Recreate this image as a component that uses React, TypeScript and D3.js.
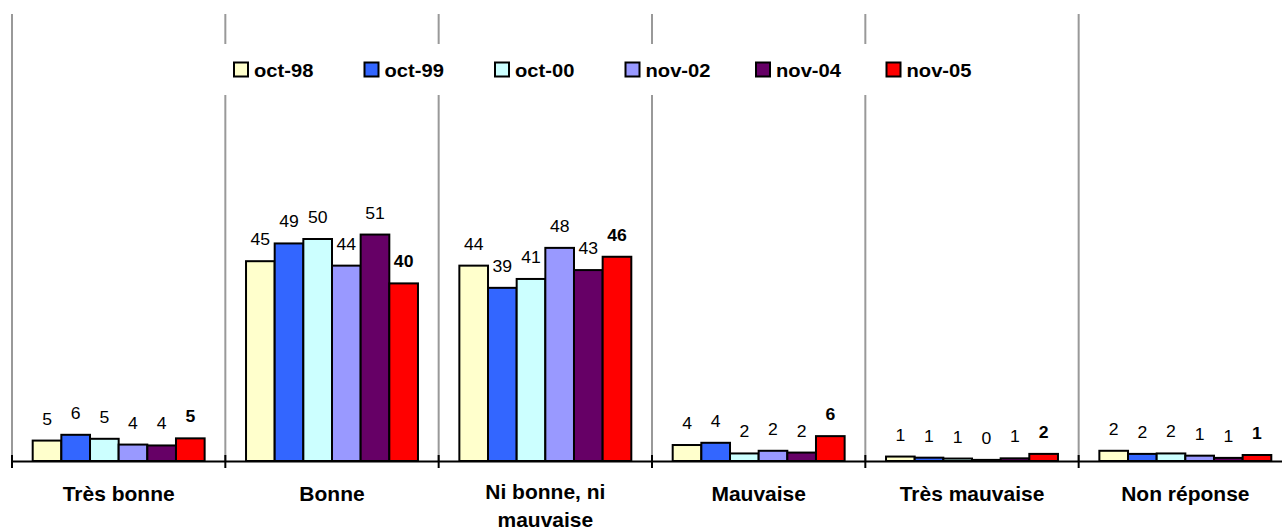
import React from "react";
import * as d3 from "d3";

// categories and survey waves
const categories = ["Très bonne", "Bonne", "Ni bonne, ni mauvaise", "Mauvaise", "Très mauvaise", "Non réponse"];
const series = ["oct-98", "oct-99", "oct-00", "nov-02", "nov-04", "nov-05"];
const colors = ["#FFFFCC", "#3366FF", "#CCFFFF", "#9999FF", "#660066", "#FF0000"];

// values per wave (bar heights), one array per wave
const oct98 = [4.6, 45, 44, 3.6, 1.0, 2.3];
const oct99 = [5.9, 49, 39, 4.1, 0.75, 1.6];
const oct00 = [5.0, 50, 41, 1.7, 0.55, 1.7];
const nov02 = [3.7, 44, 48, 2.3, 0.25, 1.2];
const nov04 = [3.5, 51, 43, 1.9, 0.6, 0.7];
const nov05 = [5.1, 40, 46, 5.6, 1.6, 1.35];
const values = [oct98, oct99, oct00, nov02, nov04, nov05];

// labels as printed on the chart
const labelRows = [
  ["5", "45", "44", "4", "1", "2"],
  ["6", "49", "39", "4", "1", "2"],
  ["5", "50", "41", "2", "1", "2"],
  ["4", "44", "48", "2", "0", "1"],
  ["4", "51", "43", "2", "1", "1"],
  ["5", "40", "46", "6", "2", "1"],
];

const FONT = "'Liberation Sans', Arial, sans-serif";

export default function App() {
  const width = 1282;
  const height = 532;
  const baseY = 461;

  const x = d3.scaleBand<string>().domain(categories).range([12, 1292]).padding(0);
  const bw = x.bandwidth();
  const xs = d3.scaleBand<string>().domain(series).range([bw * 0.097, bw * 0.903]).padding(0);
  const y = d3.scaleLinear().domain([0, 100]).range([baseY, baseY - 444]);

  // split long category names in two lines
  const catLines = (c: string) => (c.length > 15 ? ["Ni bonne, ni", "mauvaise"] : [c]);

  const legendX = d3.scalePoint<string>().domain(series).range([234, 886.5]);

  return (
    <svg
      width={width}
      height={height}
      style={{ position: "absolute", left: 0, top: 0, background: "#fff" }}
      fontFamily={FONT}
    >
      {/* vertical separators */}
      {categories.map((c) => (
        <line key={"sep" + c} x1={x(c)} x2={x(c)} y1={14} y2={baseY} stroke="#999" strokeWidth={2} />
      ))}

      {/* bars */}
      {series.map((s, si) =>
        categories.map((c, ci) => {
          const v = values[si][ci];
          const bx = (x(c) as number) + (xs(s) as number);
          return (
            <rect
              key={s + c}
              x={bx}
              y={y(v)}
              width={xs.bandwidth()}
              height={baseY - y(v)}
              fill={colors[si]}
              stroke="#000"
              strokeWidth={2}
            />
          );
        })
      )}

      {/* value labels */}
      {series.map((s, si) =>
        categories.map((c, ci) => {
          const v = values[si][ci];
          const cx = (x(c) as number) + (xs(s) as number) + xs.bandwidth() / 2;
          const bold = si === series.length - 1;
          return (
            <text
              key={"l" + s + c}
              transform={`translate(${cx},${y(v) - 16}) scale(1.1,1)`}
              textAnchor="middle"
              fontSize={16}
              fontWeight={bold ? "bold" : "normal"}
              fill="#000"
            >
              {labelRows[si][ci]}
            </text>
          );
        })
      )}

      {/* axis */}
      <line x1={12} x2={1282} y1={baseY + 0.5} y2={baseY + 0.5} stroke="#000" strokeWidth={2} />
      {categories.map((c) => (
        <line key={"t" + c} x1={x(c)} x2={x(c)} y1={455} y2={468} stroke="#000" strokeWidth={2} />
      ))}

      {/* category labels */}
      {categories.map((c) => {
        const cx = (x(c) as number) + bw / 2;
        return catLines(c).map((line, li) => (
          <text
            key={"c" + c + li}
            transform={`translate(${cx},${(catLines(c).length > 1 ? 499 : 501) + li * 28}) scale(1.05,1)`}
            textAnchor="middle"
            fontSize={20}
            fontWeight="bold"
            fill="#000"
          >
            {line}
          </text>
        ));
      })}

      {/* legend */}
      <rect x={223} y={44} width={762} height={51} fill="#fff" />
      {series.map((s, si) => {
        const lx = legendX(s) as number;
        return (
          <g key={"lg" + s}>
            <rect x={lx} y={62.5} width={14} height={14} fill={colors[si]} stroke="#000" strokeWidth={2} />
            <text
              transform={`translate(${lx + 20},${76.5}) scale(1.12,1)`}
              fontSize={18}
              fontWeight="bold"
              fill="#000"
            >
              {s}
            </text>
          </g>
        );
      })}
    </svg>
  );
}
